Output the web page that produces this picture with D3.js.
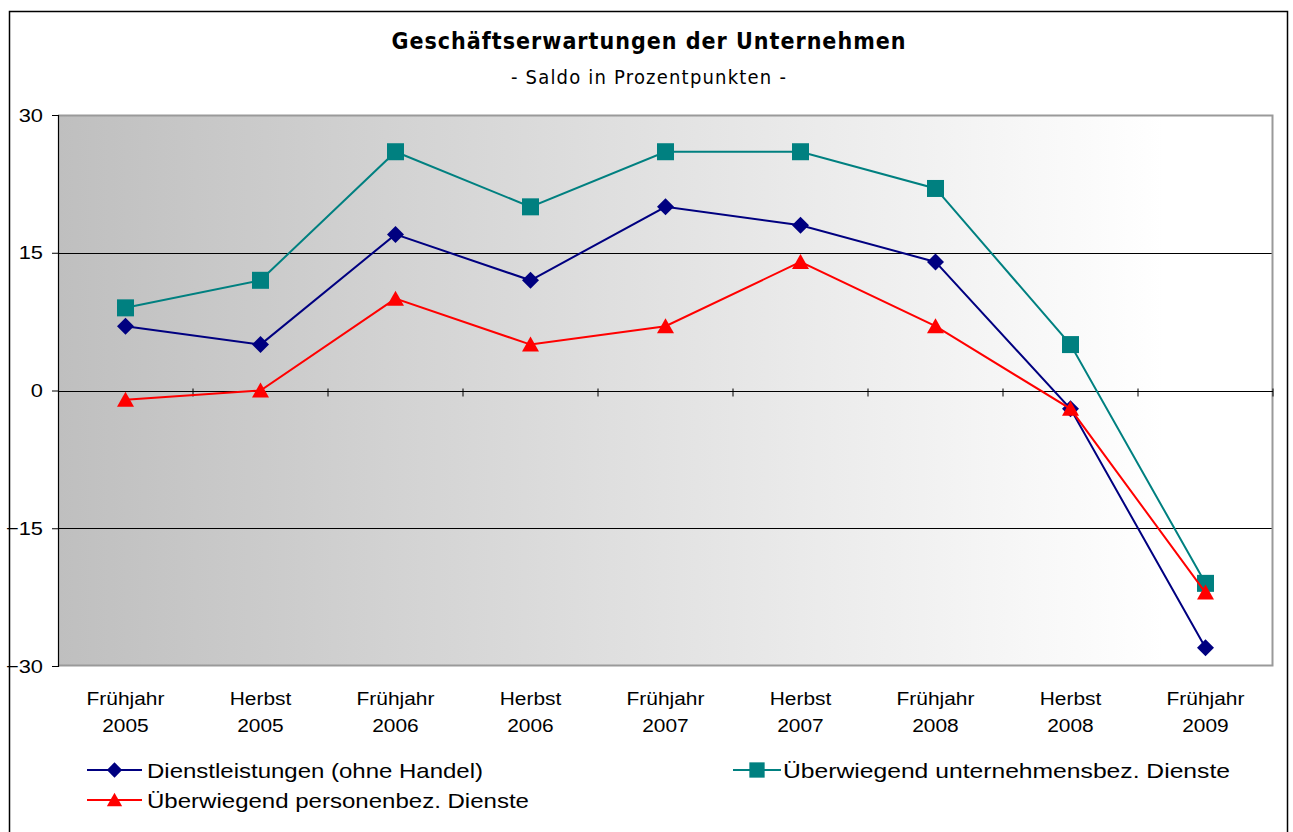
<!DOCTYPE html>
<html><head><meta charset="utf-8">
<script src="https://cdn.jsdelivr.net/npm/d3@7"></script>
<style>body{margin:0;background:#fff}svg{display:block}</style>
</head><body>
<svg id="c" width="1293" height="832"></svg>
<script>
const categories = ["Frühjahr|2005","Herbst|2005","Frühjahr|2006","Herbst|2006","Frühjahr|2007","Herbst|2007","Frühjahr|2008","Herbst|2008","Frühjahr|2009"];
const dienstleistungen = [7,5,17,12,20,18,14,-2,-28];
const unternehmensbez = [9,12,26,20,26,26,22,5,-21];
const personenbez = [-1,0,10,5,7,14,7,-2,-22];
const yTicks = [-30,-15,0,15,30];
const seriesNames = ["Dienstleistungen (ohne Handel)","Überwiegend unternehmensbez. Dienste","Überwiegend personenbez. Dienste"];

const svg = d3.select("#c");
const L=58,R=1273,T=115,B=666;
const FONT="Liberation Sans, Arial, sans-serif";
svg.append("rect").attr("x",9.5).attr("y",11.5).attr("width",1278).attr("height",840).attr("fill","#fff").attr("stroke","#000").attr("stroke-width",1.5);

const defs = svg.append("defs");
const g = defs.append("linearGradient").attr("id","bg").attr("x1","0").attr("x2","1").attr("y1","0").attr("y2","0");
g.append("stop").attr("offset","0%").attr("stop-color","#bfbfbf");
g.append("stop").attr("offset","91%").attr("stop-color","#ffffff");
g.append("stop").attr("offset","100%").attr("stop-color","#ffffff");

const x = d3.scaleBand().domain(categories).range([L,R]);
const y = d3.scaleLinear().domain([-30,30]).range([B,T]);

svg.append("rect").attr("x",L).attr("y",T).attr("width",R-L).attr("height",B-T).attr("fill","url(#bg)");
svg.append("g").selectAll("line").data([15,-15]).join("line")
  .attr("x1",L).attr("x2",R).attr("y1",d=>Math.round(y(d))+0.5).attr("y2",d=>Math.round(y(d))+0.5)
  .attr("stroke","#000").attr("stroke-width",1);
svg.append("path").attr("d",`M${L},${T+0.5}H${R-0.5}V${B-0.5}H${L}`).attr("fill","none").attr("stroke","#9a9a9a").attr("stroke-width",2);

// y axis
const ya = svg.append("g").attr("transform",`translate(${L},0)`)
  .call(d3.axisLeft(y).tickValues(yTicks).tickSize(6).tickPadding(0));
ya.select(".domain").attr("stroke","#000").attr("stroke-width",1.2);
ya.selectAll(".tick line").attr("stroke","#000");
ya.selectAll("text").attr("font-family",FONT).attr("font-size",19).attr("fill","#000")
  .attr("x",0).attr("transform","translate(-15,0) scale(1.15,1)");

// x axis line at 0 with boundary ticks
const y0 = Math.round(y(0))+0.5;
svg.append("line").attr("x1",L).attr("x2",R).attr("y1",y0).attr("y2",y0).attr("stroke","#000").attr("stroke-width",1.2);
svg.append("g").selectAll("line").data(categories).join("line")
  .attr("x1",d=>x(d)+x.step()).attr("x2",d=>x(d)+x.step())
  .attr("y1",y0-3).attr("y2",y0+5).attr("stroke","#000").attr("stroke-width",1);

// x labels
const xl = svg.append("g").selectAll("text").data(categories).join("text")
  .attr("transform",d=>`translate(${x(d)+x.bandwidth()/2},705) scale(1.1,1)`)
  .attr("text-anchor","middle").attr("font-family",FONT).attr("font-size",19).attr("fill","#000");
xl.append("tspan").attr("x",0).attr("dy",0).text(d=>d.split("|")[0]);
xl.append("tspan").attr("x",0).attr("dy",27).text(d=>d.split("|")[1]);

const cx = (d,i)=>x(categories[i])+x.bandwidth()/2;
const line = d3.line().x((d,i)=>cx(d,i)).y(d=>y(d));
const series = [
  {vals:unternehmensbez,color:"#008080",shape:"square"},
  {vals:dienstleistungen,color:"#000080",shape:"diamond"},
  {vals:personenbez,color:"#ff0000",shape:"triangle"}
];
function marker(sel,shape,color,sz){
  const k = sz||1;
  if(shape==="square") sel.append("rect").attr("x",-8.5*k).attr("y",-8.5*k).attr("width",17*k).attr("height",17*k).attr("fill",color);
  else if(shape==="diamond") sel.append("path").attr("d",`M0,${-8.5*k}L${8.5*k},0L0,${8.5*k}L${-8.5*k},0Z`).attr("fill",color);
  else sel.append("path").attr("d",`M0,${-8*k}L${8.5*k},${7*k}L${-8.5*k},${7*k}Z`).attr("fill",color);
}
series.forEach(s=>{
  svg.append("path").datum(s.vals).attr("d",line).attr("fill","none").attr("stroke",s.color).attr("stroke-width",2);
  svg.append("g").selectAll("g").data(s.vals).join("g")
    .attr("transform",(d,i)=>`translate(${cx(d,i)},${y(d)})`)
    .each(function(){marker(d3.select(this),s.shape,s.color);});
});

// title
svg.append("text").attr("x",649).attr("y",49).attr("text-anchor","middle")
  .attr("font-family","DejaVu Sans Condensed, DejaVu Sans, sans-serif").attr("font-weight","bold").attr("font-size",23)
  .attr("letter-spacing",1).text("Geschäftserwartungen der Unternehmen");
svg.append("text").attr("x",649).attr("y",84).attr("text-anchor","middle")
  .attr("font-family","DejaVu Sans Condensed, DejaVu Sans, sans-serif").attr("font-size",20)
  .attr("letter-spacing",1.2).text("- Saldo in Prozentpunkten -");

// legend
const leg = [
  {name:seriesNames[0],color:"#000080",shape:"diamond",x:87,y:770,w:336,len:55,tx:60},
  {name:seriesNames[1],color:"#008080",shape:"square",x:733,y:770,w:447,len:48,tx:50},
  {name:seriesNames[2],color:"#ff0000",shape:"triangle",x:87,y:800,w:382,len:55,tx:60}
];
leg.forEach(l=>{
  const gg = svg.append("g").attr("transform",`translate(${l.x},${l.y})`);
  gg.append("line").attr("x1",0).attr("x2",l.len).attr("stroke",l.color).attr("stroke-width",2);
  const m = gg.append("g").attr("transform",`translate(${l.len/2},0)`);
  marker(m,l.shape,l.color,0.9);
  gg.append("text").attr("x",l.tx).attr("y",8).attr("font-family",FONT).attr("font-size",21).attr("fill","#000")
    .attr("textLength",l.w).attr("lengthAdjust","spacingAndGlyphs").text(l.name);
});
</script>
</body></html>
